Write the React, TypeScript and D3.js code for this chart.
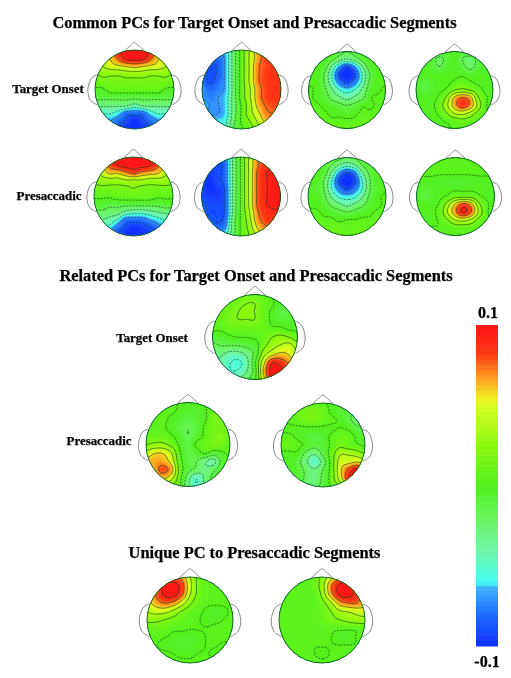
import React, { useMemo } from "react";
import * as d3 from "d3";

// scalp values in units of 0.01, 11 x 11 samples, top of head first, left to right
const commonOnset1 = [
  [5,6,8,9,10,10,10,9,8,6,5],
  [4,5,6,8,10,10,10,8,6,5,4],
  [3,4,5,5.5,6,6.5,6,5.5,5,4,3],
  [2,2.5,2.5,2.5,3,3,3,2.5,2.5,2.5,2],
  [1,1.5,1.5,1.5,1.5,1.5,1.5,1.5,1.5,1.5,1],
  [0,0,1,1,1,1,1,1,1,0,0],
  [-1,-1,-1,-1,-1,-1,-1,-1,-1,-1,-1],
  [-3,-3,-3,-3,-3,-4,-3,-3,-3,-3,-3],
  [-4,-5,-5,-6,-8,-8,-8,-6,-5,-5,-4],
  [-6,-6,-7,-8,-9,-10,-9,-8,-7,-6,-6],
  [-7,-7,-8,-9,-10,-10,-10,-9,-8,-7,-7],
];
const commonOnset2 = [
  [-6,-7,-7,-6,-2.5,1,4,6.5,7.5,7.5,7],
  [-7,-8,-8,-6.5,-2.5,1,4,6.5,8,8.2,8],
  [-8,-9,-8.5,-6.5,-2.5,1,4,7,8,8.5,8.5],
  [-8,-9,-8.5,-6.5,-2.5,1,4,7,8.2,8.7,8.7],
  [-8,-9,-8,-6.5,-2.5,1,4,7,8.2,8.7,8.7],
  [-7,-8,-7.5,-6.5,-2.5,1,3.5,6.5,8,8.7,8.7],
  [-7,-7.5,-7,-6,-2.5,1,3.5,6.5,8,8.5,8.5],
  [-6,-7,-7,-6,-2.5,0.5,3,6,7.5,8,8],
  [-6,-7,-7,-6,-2.5,0.5,3,5,7,7.5,7.5],
  [-5,-6,-6,-5.5,-2,0.5,2,4,6,7,7],
  [-5,-5,-5,-5,-1.5,0,1,3,5,6,6],
];
const commonOnset3 = [
  [0,0,0,-0.5,-1,-1.5,-1,-0.5,0,0,0],
  [0,0,0,-1,-2.5,-3.5,-2.5,-1,0,0,0],
  [0,0,-0.5,-3.5,-7,-9,-7,-3.5,-0.5,0,0],
  [0,0,-1.5,-5,-9,-10.5,-9,-5,-1.5,0,0],
  [0,0,-1.5,-4.5,-7.5,-9,-7.5,-4.5,-1,0,0],
  [0.5,0,-1,-3,-5,-6,-5,-3,-0.5,0,0.5],
  [0.5,0,-0.5,-2,-3,-4,-3,-2,0,0.5,0.5],
  [1,0.5,0,-0.5,-1,-1.5,-1,0,0,0.5,1],
  [1,1,0.5,0,0,-0.5,0,0.5,0.5,1,1],
  [1.5,1.5,1,0.5,0.5,0.5,0.5,1,1,1.5,1.5],
  [2,2,2,1.5,1.5,1,1.5,2,2,2,2],
];
const commonOnset4 = [
  [0,0,0,0,-0.5,0,-0.5,0,0,0,0],
  [0,0,-0.5,-2,-1,0,-1.5,-2.5,-1,0,0],
  [0,0,-0.5,-1.5,-0.5,0,-1,-2,-1,0,0],
  [0,0,0,0,0,0,0,-0.5,0,0,0],
  [-0.5,-1,-0.5,0,0,0.5,1,0.5,0,0,0],
  [0,-1,-0.5,0,0.5,2,2.5,2,1,0,0],
  [0,0,0,0.5,2.5,6,7.5,6.5,2.5,0.5,0],
  [0,0,0,1,3.5,6.5,8.5,7,3.5,0.5,0],
  [0,0,0,0.5,2,4,4.5,3.5,1.5,0.5,0],
  [0,0,0,0,0.5,1,1.5,1,0.5,0,0],
  [0,0,0,0,0,0.5,0.5,0,0,0,0],
];
const commonPresacc1 = [
  [6,7,9,10,10,10,10,10,9,7,6],
  [5,6,8,9.5,10,10,10,9.5,8,6,5],
  [3.5,4.5,6,6,7,8,7,6.5,6,4.5,3.5],
  [2.5,3,3,3,3.5,3.5,3.5,3,3,3,2.5],
  [1.5,1.5,1.5,1.5,1.5,2,1.5,1.5,1.5,1.5,1.5],
  [0.5,0.5,0.5,1,1,1,1,1,0.5,0.5,0.5],
  [-0.5,-0.5,-1,-1,-1,-1,-1,-1,-1,-0.5,-0.5],
  [-2,-2,-2.5,-2.5,-4,-4.5,-4.5,-4,-3.5,-3,-3],
  [-3,-3.5,-4,-5.5,-8,-8,-8,-7,-6,-5,-4],
  [-5,-5,-6,-8,-9,-10,-9.5,-9,-8,-6,-6],
  [-7,-7,-8,-9,-10,-10.5,-10,-9,-8,-7,-7],
];
const commonPresacc2 = [
  [-7,-8,-8,-7.5,-3,0.5,4,7,8,8.5,7.5],
  [-8,-9,-9,-8,-3,0.5,4,7,8.5,9,8.5],
  [-9,-9.5,-9,-8,-3,0.5,4,7.5,9,9.5,9],
  [-9,-10,-9,-8,-3,0.5,4,7.5,9,9.5,9.5],
  [-9,-10,-9.5,-8.5,-3,0.5,4,7.5,9,9.5,9.5],
  [-9,-9.5,-9.5,-8.5,-3,0.5,4,7.5,9,9.5,9.5],
  [-8.5,-9,-9,-8.5,-3,0.5,4,7.5,9,9.5,9.5],
  [-8,-9,-9,-8.5,-3,0.5,3.5,7,8.5,9,9],
  [-8,-8.5,-9,-8,-2.5,0.5,3,6.5,8,8.5,8.5],
  [-7,-8,-8,-7,-2.5,0.5,2.5,5.5,7,7.5,7.5],
  [-6,-7,-7,-5.5,-2,0.5,2,4,6,6.5,6.5],
];
const commonPresacc3 = [
  [0,0,0,-0.5,-1,-2,-1.5,-0.5,0,0,0],
  [0,0,-0.5,-1.5,-3.5,-4.5,-3.5,-1.5,-0.5,0,0],
  [0,0,-0.5,-3.5,-7,-9,-7.5,-3.5,-1,0,0],
  [0,0,-1.5,-5,-9,-10.5,-9,-5,-1.5,0,0],
  [-0.5,-0.5,-1.5,-5,-7.5,-9,-7.5,-5,-1.5,-0.5,0],
  [0,0,-1,-3.5,-5.5,-6,-5.5,-3.5,-1,0,0.5],
  [0,0,-0.5,-2,-3,-4,-3,-2,-0.5,0,0.5],
  [0.5,0.5,0,-0.5,-1,-1.5,-1,-0.5,0,0.5,0.5],
  [1,1,0.5,0.5,0,0.3,0.3,0.5,0.5,1,1],
  [1.5,1.5,1,1,1,0.5,1,1,1,1.5,1.5],
  [2,2,2,1.5,1,1,1,1.5,2,2,2],
];
const commonPresacc4 = [
  [0.5,0.5,0.5,0.5,0.5,0.5,0.5,0.5,0.5,0.5,0.5],
  [0.5,0.5,0.5,0.5,0.5,0.5,0.5,0.5,0.5,0.5,0.5],
  [0.4,0.4,0.4,0.4,0.4,0.4,0.4,0.4,0.4,0.4,0.4],
  [0,0,0,-0.3,-0.5,-0.5,-0.5,-0.3,0,0,0],
  [-0.3,-0.5,-0.3,0,0,0,0,0,0,0,0],
  [-0.5,-1,-0.5,0,0.5,1.5,1.5,1.5,0.5,0,0],
  [0,0,0,0.5,3,6,8,6.5,2.5,0.5,0],
  [0,0,0,1,4,7,9.5,7.5,3.5,0.5,0],
  [0,0,0,0.5,2,4,4.5,3.5,1.5,0.5,0],
  [0.3,0.3,0.3,0.3,0.5,1,1,1,0.5,0.3,0.3],
  [0.5,0.5,0.5,0.5,0.5,0.5,0.5,0.5,0.5,0.5,0.5],
];
const relatedOnset = [
  [1,1,1,1,1.5,1,0.5,0,-0.5,0,0],
  [1,1,1,1.5,2,2,1,0.5,-0.5,-0.5,0],
  [1,1,1.5,2,2.5,2,1,0,-1,-1,-0.5],
  [1,1,1.5,2,2,2,1,0,-0.5,-0.5,0],
  [0.5,0.5,1,1,1,1,1,0.5,0.5,0,0],
  [-0.5,-0.5,0,0.3,0.3,0.5,1,2,2.5,2,1],
  [-2,-1.5,-1.5,-1.5,-1,-0.5,1.5,3,4,4.5,3],
  [-3,-3,-4,-4,-3,-1,3,5,6,5.5,4],
  [-3,-4,-5,-5.5,-4,0,5,9,8.5,7,4.5],
  [-3,-4,-5,-5,-3.5,-0.5,6,10,10,8,5],
  [-2,-3,-4,-3.5,-2,0,5,10,10,8,5],
];
const relatedPresacc1 = [
  [1,1,1,1,0,0,0,0.5,1,1,1],
  [1,1,0.5,0.5,0,-0.5,-0.5,0,1.5,1.5,1],
  [1,0.5,0.5,0,-0.5,-1,-0.5,0,1.5,1.5,1],
  [0.5,0.5,0.5,-0.3,-1,-1.5,-1,0.5,1.5,1.5,1],
  [1,1,1,0.5,-0.5,-1.5,-0.5,0.5,1.5,2,1],
  [2,2.5,2.5,1.5,0,-1,0.5,1,1.5,1.5,0.5],
  [4.5,5.5,5.5,4,0.5,-1,-0.5,0.5,-0.5,0,0.5],
  [6,6.5,6.5,5,1,-1,-1.5,-3,-4,-1,0],
  [5.5,6.5,8,6.5,1.5,-1,-2,-3,-2,-0.5,0],
  [5,5.5,6,4.5,1,-2.5,-5,-3,-1,0,0],
  [3,3,3,2,0.5,-3,-5,-3,-1,0,0],
];
const relatedPresacc2 = [
  [0,0,0.5,1,1,0.5,0,0,-0.5,-2,-3],
  [0,0,1,1.5,1.5,1,0,-0.5,-1,-2,-3],
  [0,0.5,1,1.5,1.5,1,0.5,0,-1,-2.5,-3],
  [0,0,0,0,0,0,0,0.3,0,-1,-2],
  [0.5,0.5,0,-0.5,-1,-0.5,0.5,1,1,0,-0.5],
  [1,1,0.5,0,-1,-0.5,0.5,1.5,1,0.5,0],
  [0,0,0,-2,-3,-1,1,3.5,3.5,3,2],
  [0,0,-1,-3,-5,-2.5,1,4.5,5,5.5,5],
  [0,0,-0.5,-2,-3,-1.5,1,5,8,10,9],
  [0,0,-0.5,-2,-3,-1,1,4.5,8.5,10.5,9],
  [0,0,-0.5,-2.5,-2,-1,0.5,2,5,8,8],
];
const uniquePresacc1 = [
  [4,5,7,8,7,4,1.5,0.7,0.5,0.5,0.5],
  [5,7,9.5,10,8.5,4.5,1.5,0.7,0.5,0.5,0.5],
  [5.5,7.5,9.5,10,8,4,1.5,0.7,0.5,0.5,0.5],
  [5,6.5,7.5,7,5,2.5,1,0.5,0.5,0.5,0.5],
  [4,4.5,4.5,3.5,2,1,0.5,0,-0.5,0,0.5],
  [2.5,2.5,2,1.5,1,0.5,0.3,0,0,0.3,0.5],
  [1,1,1,0.5,0.5,0.3,0.3,0.3,0.5,0.5,0.5],
  [0.5,0.5,0.3,0,-0.3,-0.3,0,0.3,0.5,0.5,0.5],
  [0.5,0.3,0,-0.3,-0.5,-0.3,0,0.3,0.3,0,0],
  [0.5,0.5,0.5,0.3,0,0,0.3,0.3,0,-0.3,0],
  [0.5,0.5,0.5,0.5,0.5,0.5,0.5,0.5,0.5,0.5,0.5],
];
const uniquePresacc2 = [
  [0.5,0.5,0.5,0.5,1,2.5,5,7,8,6.5,4],
  [0.5,0.5,0.5,0.5,1,3,7,9.5,10,8,6],
  [0.5,0.5,0.5,0.5,0.5,2.5,6.5,9.5,10,8.5,6.5],
  [0.5,0.5,0.5,0.5,0.5,1.5,3.5,6.5,7.5,7.5,6],
  [0.5,0.5,0.5,0.5,0.5,1,2,3.5,4,4.5,5],
  [0.5,0.5,0.5,0.5,0.5,1,1.5,2,2.5,3,3],
  [0.5,0.5,0.5,0.5,0.5,0.5,0.5,0.5,0.5,0.5,1],
  [0.5,0.5,0.5,0.5,0.5,0.5,0.3,-0.3,-0.3,0.3,0.5],
  [0.5,0.5,0.5,0.5,0.3,0.3,0.3,0.3,0.3,0.3,0.5],
  [0.5,0.5,0.5,0.4,0.3,0,0.3,0.4,0.5,0.5,0.5],
  [0.5,0.5,0.5,0.5,0.5,0.5,0.5,0.5,0.5,0.5,0.5],
];

const titles = [
  { text: "Common PCs for Target Onset and Presaccadic Segments", x: 254.5, y: 28 },
  { text: "Related PCs for Target Onset and Presaccadic Segments", x: 256, y: 281 },
  { text: "Unique PC to Presaccadic Segments", x: 254.5, y: 558 },
];
const rowLabels = [
  { text: "Target Onset", x: 48, y: 93 },
  { text: "Presaccadic", x: 49, y: 200 },
  { text: "Target Onset", x: 152, y: 342 },
  { text: "Presaccadic", x: 99, y: 445 },
];
const barLabels = [
  { text: "0.1", x: 488, y: 318 },
  { text: "-0.1", x: 487, y: 667 },
];

const maps = [
  { id: "a1", grid: commonOnset1, cx: 134.5, cy: 89.5, r: 39.5 },
  { id: "a2", grid: commonOnset2, cx: 241.5, cy: 89.5, r: 39.5 },
  { id: "a3", grid: commonOnset3, cx: 347, cy: 90, r: 38.5 },
  { id: "a4", grid: commonOnset4, cx: 454.5, cy: 90, r: 38.5 },
  { id: "b1", grid: commonPresacc1, cx: 133.5, cy: 196.5, r: 39.5 },
  { id: "b2", grid: commonPresacc2, cx: 241, cy: 196.5, r: 39.5 },
  { id: "b3", grid: commonPresacc3, cx: 347, cy: 196.5, r: 39 },
  { id: "b4", grid: commonPresacc4, cx: 455.5, cy: 196.5, r: 39 },
  { id: "c1", grid: relatedOnset, cx: 255, cy: 337, r: 42.5 },
  { id: "d1", grid: relatedPresacc1, cx: 188, cy: 444.5, r: 42 },
  { id: "d2", grid: relatedPresacc2, cx: 323, cy: 445, r: 42 },
  { id: "e1", grid: uniquePresacc1, cx: 190, cy: 620, r: 43 },
  { id: "e2", grid: uniquePresacc2, cx: 322, cy: 620, r: 43 },
];

const colorStops = [-10, -8, -6.4, -6, -4, -2, 0, 2.5, 5, 5.4, 6.8, 8.2, 10];
const colorValues = [
  "#1030ff", "#1f6cff", "#3fb0ff", "#45fff0", "#70f5a8", "#68f560", "#50f020",
  "#8cf810", "#d8ff20", "#f0f020", "#ff9a20", "#ff3a18", "#ff1414",
];
const color = d3.scaleLinear<string>().domain(colorStops).range(colorValues).clamp(true);

const NUM_BANDS = 64;
const bands = d3.range(NUM_BANDS).map((i) => -10 + (i * 20) / NUM_BANDS);
const lineLevels = d3.range(-8.75, 10, 1.8);
const STEP = 8;

const noseShape: [number, number][] = [[-0.26, -0.97], [-0.08, -1.13], [0, -1.19], [0.08, -1.13], [0.26, -0.97]];
const earShape: [number, number][] = [[0.95, -0.37], [1.08, -0.3], [1.18, 0], [1.12, 0.26], [0.95, 0.39]];

function catmull(a: number, b: number, c: number, d: number, t: number) {
  return b + 0.5 * t * (c - a + t * (2 * a - 5 * b + 4 * c - d + t * (3 * (b - c) + d - a)));
}

// resample the grid so the contours come out round
function refine(grid: number[][]) {
  const n = grid.length;
  const m = (n - 1) * STEP + 1;
  const at = (j: number, i: number) => grid[Math.max(0, Math.min(n - 1, j))][Math.max(0, Math.min(n - 1, i))];
  const out = new Array(m * m);
  for (let y = 0; y < m; y++) {
    const j = Math.min(n - 2, Math.floor(y / STEP));
    const v = y / STEP - j;
    for (let x = 0; x < m; x++) {
      const i = Math.min(n - 2, Math.floor(x / STEP));
      const u = x / STEP - i;
      const rows = [-1, 0, 1, 2].map((dj) => catmull(at(j + dj, i - 1), at(j + dj, i), at(j + dj, i + 1), at(j + dj, i + 2), u));
      out[y * m + x] = catmull(rows[0], rows[1], rows[2], rows[3], v);
    }
  }
  return { values: out, m };
}

function TopoMap({ id, grid, cx, cy, r }: { id: string; grid: number[][]; cx: number; cy: number; r: number }) {
  const { fills, lines } = useMemo(() => {
    const { values, m } = refine(grid);
    const contours = d3.contours().size([m, m]);
    const xScale = d3.scaleLinear().domain([0.5, m - 0.5]).range([cx - r, cx + r]);
    const yScale = d3.scaleLinear().domain([0.5, m - 0.5]).range([cy - r, cy + r]);
    const path = d3.geoPath(
      d3.geoTransform({
        point(x, y) {
          this.stream.point(xScale(x), yScale(y));
        },
      })
    );
    return {
      fills: contours.thresholds(bands)(values).map((c) => ({ level: c.value, d: path(c) as string })),
      lines: contours.thresholds(lineLevels)(values).map((c) => ({ level: c.value, d: path(c) as string })),
    };
  }, [grid, cx, cy, r]);

  const ux = d3.scaleLinear().domain([-1, 1]).range([cx - r, cx + r]);
  const uy = d3.scaleLinear().domain([-1, 1]).range([cy - r, cy + r]);
  const outline = d3.line<[number, number]>().x((p) => ux(p[0])).y((p) => uy(p[1])).curve(d3.curveCatmullRom);
  const outlineLeft = d3.line<[number, number]>().x((p) => ux(-p[0])).y((p) => uy(p[1])).curve(d3.curveCatmullRom);

  return (
    <g>
      <g fill="none" stroke="#777c77" strokeWidth={0.9}>
        <path d={outline(noseShape) as string} />
        <path d={outline(earShape) as string} />
        <path d={outlineLeft(earShape) as string} />
      </g>
      <clipPath id={`clip-${id}`}>
        <circle cx={cx} cy={cy} r={r} />
      </clipPath>
      <g clipPath={`url(#clip-${id})`}>
        <rect x={cx - r} y={cy - r} width={2 * r} height={2 * r} fill={color(-10)} />
        {fills.map((f) => (
          <path key={f.level} d={f.d} fill={color(f.level + 10 / NUM_BANDS)} />
        ))}
        {lines.map((l) => (
          <path
            key={l.level}
            d={l.d}
            fill="none"
            stroke="#0b3a14"
            strokeOpacity={0.8}
            strokeWidth={0.75}
            strokeDasharray={l.level < 0.5 ? "2 1.2" : undefined}
          />
        ))}
      </g>
      <circle cx={cx} cy={cy} r={r} fill="none" stroke="#0f5a28" strokeWidth={0.9} />
    </g>
  );
}

function ColorBar() {
  const y = d3.scaleBand<number>().domain(d3.range(NUM_BANDS)).range([646, 325]);
  return (
    <g>
      {bands.map((b, i) => (
        <rect key={i} x={476} y={y(i)} width={22} height={y.bandwidth() + 0.5} fill={color(b + 10 / NUM_BANDS)} />
      ))}
    </g>
  );
}

export default function App() {
  const serif = "'Liberation Serif', serif";
  return (
    <svg width={511} height={678} style={{ position: "absolute", left: 0, top: 0, background: "#fff" }}>
      <defs>
        <filter id="soft" x="-5%" y="-5%" width="110%" height="110%">
          <feGaussianBlur stdDeviation={0.45} />
        </filter>
      </defs>
      <g filter="url(#soft)">
        {maps.map((m) => (
          <TopoMap key={m.id} {...m} />
        ))}
        <ColorBar />
        <g fontFamily={serif} fontWeight="bold" textAnchor="middle" fill="#000" stroke="#000" strokeWidth={0.25}>
          {titles.map((t) => (
            <text key={t.text} x={t.x} y={t.y} fontSize={16.4}>
              {t.text}
            </text>
          ))}
          {rowLabels.map((t) => (
            <text key={t.text + t.x} x={t.x} y={t.y} fontSize={12.9}>
              {t.text}
            </text>
          ))}
          {barLabels.map((t) => (
            <text key={t.text} x={t.x} y={t.y} fontSize={16}>
              {t.text}
            </text>
          ))}
        </g>
      </g>
    </svg>
  );
}
